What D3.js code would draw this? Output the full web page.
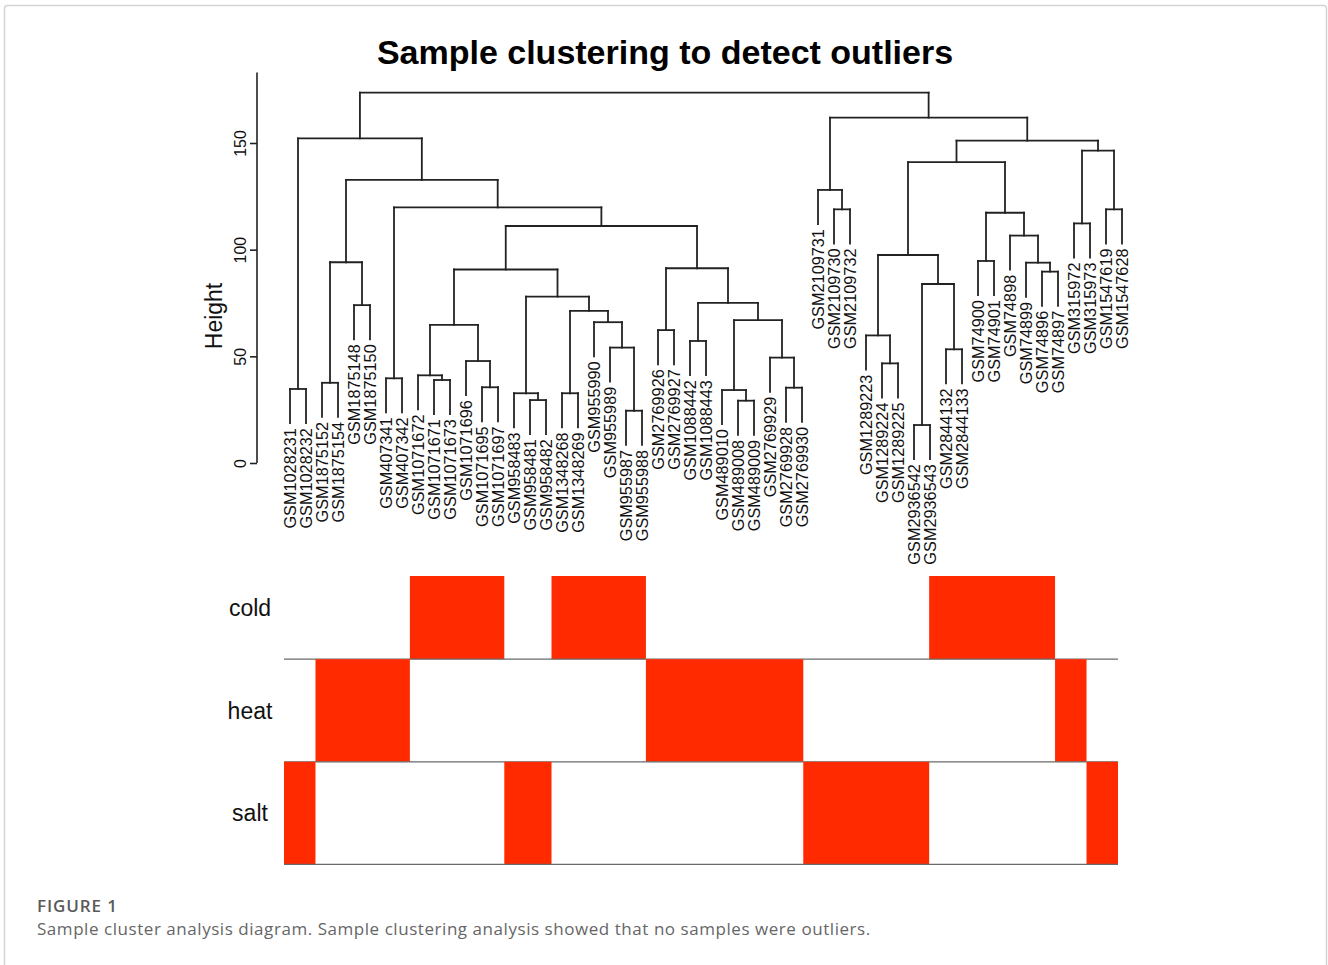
<!DOCTYPE html>
<html>
<head>
<meta charset="utf-8">
<script src="https://cdn.jsdelivr.net/npm/d3@7"></script>
<style>
  html, body { margin: 0; padding: 0; background: #fff; }
  svg { display: block; }
</style>
</head>
<body>
<svg id="chart" width="1328" height="965"></svg>
<script>
// ---------------- DATA ----------------
const samples = [
  "GSM1028231","GSM1028232","GSM1875152","GSM1875154","GSM1875148","GSM1875150",
  "GSM407341","GSM407342","GSM1071672","GSM1071671","GSM1071673","GSM1071696",
  "GSM1071695","GSM1071697","GSM958483","GSM958481","GSM958482","GSM1348268",
  "GSM1348269","GSM955990","GSM955989","GSM955987","GSM955988","GSM2769926",
  "GSM2769927","GSM1088442","GSM1088443","GSM489010","GSM489008","GSM489009",
  "GSM2769929","GSM2769928","GSM2769930","GSM2109731","GSM2109730","GSM2109732",
  "GSM1289223","GSM1289224","GSM1289225","GSM2936542","GSM2936543","GSM2844132",
  "GSM2844133","GSM74900","GSM74901","GSM74898","GSM74899","GSM74896",
  "GSM74897","GSM315972","GSM315973","GSM1547619","GSM1547628"
];

// hclust-style merges: negative = leaf (-(index+1)), positive = earlier merge row (1-based)
const merges = [
  [-1,-2,34.7],[-3,-4,37.6],[-5,-6,74.0],[2,3,94.1],[-7,-8,39.7],
  [-10,-11,38.9],[-9,6,41.1],[-13,-14,35.5],[-12,8,47.8],[7,9,64.7],
  [-16,-17,29.5],[-15,11,32.7],[-18,-19,32.7],[-22,-23,24.5],[-21,14,54.1],
  [-20,15,66.0],[13,16,71.3],[12,17,78.0],[10,18,90.7],[-24,-25,62.3],
  [-26,-27,57.2],[-29,-30,29.2],[-28,22,34.2],[-32,-33,35.3],[-31,24,49.4],
  [23,25,67.0],[21,26,75.1],[20,27,91.3],[19,28,111.1],[5,29,119.8],
  [4,30,132.7],[1,31,152.2],
  [-35,-36,118.9],[-34,33,128.0],[-38,-39,46.7],[-37,35,59.8],[-40,-41,17.8],
  [-42,-43,53.3],[37,38,83.9],[36,39,97.5],[-44,-45,94.7],[-48,-49,89.7],
  [-47,42,93.9],[-46,43,106.6],[41,44,117.3],[40,45,141.0],[-50,-51,112.3],
  [-52,-53,118.9],[47,48,146.4],[46,49,151.1],[34,50,161.9],[32,51,173.6]
];
const leafHang = 16;

const traits = ["cold", "heat", "salt"];
const sampleTrait = [
  "salt","salt",
  "heat","heat","heat","heat","heat","heat",
  "cold","cold","cold","cold","cold","cold",
  "salt","salt","salt",
  "cold","cold","cold","cold","cold","cold",
  "heat","heat","heat","heat","heat","heat","heat","heat","heat","heat",
  "salt","salt","salt","salt","salt","salt","salt","salt",
  "cold","cold","cold","cold","cold","cold","cold","cold",
  "heat","heat",
  "salt","salt"
];

const yTicks = [0, 50, 100, 150];
const titleText = "Sample clustering to detect outliers";
const yLabel = "Height";
const figLabel = "FIGURE 1";
const caption = "Sample cluster analysis diagram. Sample clustering analysis showed that no samples were outliers.";

// ---------------- DRAW ----------------
const svg = d3.select("#chart");
const ink = "#222";
const red = "#ff2a00";

// frame
svg.append("rect")
  .attr("x", 4.5).attr("y", 5.5).attr("width", 1322).attr("height", 990)
  .attr("rx", 3).attr("fill", "#fff").attr("stroke", "#d4d4d4").attr("stroke-width", 1.5);

// title
svg.append("text")
  .attr("x", 665).attr("y", 64)
  .attr("text-anchor", "middle")
  .attr("font-family", "Liberation Sans, Arial, sans-serif")
  .attr("font-weight", "bold").attr("font-size", 34)
  .attr("fill", "#000")
  .text(titleText);

// scales
const x = d3.scalePoint().domain(d3.range(samples.length)).range([290, 1122]);
const y = d3.scaleLinear().domain([0, 150]).range([463, 143]);

// axis
const axisG = svg.append("g").attr("transform", "translate(257,0)");
axisG.call(d3.axisLeft(y).tickValues(yTicks).tickSize(7).tickFormat(d3.format("d")));
axisG.select(".domain").remove();
axisG.append("line").attr("x1", 0).attr("x2", 0).attr("y1", y(183)).attr("y2", y(0))
  .attr("stroke", ink).attr("stroke-width", 1.6);
axisG.selectAll(".tick line").attr("stroke", ink).attr("stroke-width", 1.6);
axisG.selectAll(".tick text")
  .attr("font-family", "Liberation Sans, Arial, sans-serif")
  .attr("font-size", 16).attr("fill", "#111")
  .attr("x", null).attr("dy", null)
  .attr("text-anchor", "middle")
  .attr("transform", "translate(-11,0) rotate(-90)")
  .attr("y", 0);

svg.append("text")
  .attr("transform", "translate(222,316) rotate(-90)")
  .attr("text-anchor", "middle")
  .attr("font-family", "Liberation Sans, Arial, sans-serif")
  .attr("font-size", 23).attr("fill", "#111")
  .text(yLabel);

// build nodes
const nodePos = merges.map(() => null);
function childInfo(ref) {
  if (ref < 0) return { leaf: true, idx: -ref - 1, x: x(-ref - 1) };
  return { leaf: false, x: nodePos[ref - 1].x, h: nodePos[ref - 1].h };
}
const segs = [];
const leafEnds = [];
merges.forEach((m, i) => {
  const [a, b, h] = m;
  const ca = childInfo(a), cb = childInfo(b);
  nodePos[i] = { x: (ca.x + cb.x) / 2, h: h };
  segs.push([ca.x, y(h), cb.x, y(h)]);
  [ca, cb].forEach(c => {
    const bottom = c.leaf ? h - leafHang : c.h;
    segs.push([c.x, y(h), c.x, y(bottom)]);
    if (c.leaf) leafEnds.push({ idx: c.idx, x: c.x, y: y(bottom) });
  });
});

const dendro = svg.append("g");
dendro.selectAll("line").data(segs).join("line")
  .attr("x1", d => d[0]).attr("y1", d => d[1])
  .attr("x2", d => d[2]).attr("y2", d => d[3])
  .attr("stroke", ink).attr("stroke-width", 1.8).attr("stroke-linecap", "square");

dendro.selectAll("text").data(leafEnds).join("text")
  .attr("transform", d => `translate(${d.x},${d.y + 5}) rotate(-90)`)
  .attr("text-anchor", "end")
  .attr("dy", "0.36em")
  .attr("font-family", "Liberation Sans, Arial, sans-serif")
  .attr("font-size", 16.3).attr("fill", "#111")
  .text(d => samples[d.idx]);

// trait colour rows
const xb = d3.scaleBand().domain(d3.range(samples.length)).range([284, 1118]);
const rowY = d3.scaleBand().domain(traits).range([556.6, 864.4]);
const clipTop = 576;

// group contiguous runs of the same trait into single blocks
function runsFor(t) {
  const runs = [];
  sampleTrait.forEach((s, i) => {
    if (s !== t) return;
    const last = runs[runs.length - 1];
    if (last && last.end === i - 1) last.end = i;
    else runs.push({ start: i, end: i });
  });
  return runs;
}

const rows = svg.append("g");
traits.forEach(t => {
  const top = Math.max(rowY(t), clipTop);
  const bottom = rowY(t) + rowY.bandwidth();
  rows.append("g").selectAll("rect")
    .data(runsFor(t))
    .join("rect")
    .attr("x", r => xb(r.start))
    .attr("width", r => xb(r.end) + xb.bandwidth() - xb(r.start))
    .attr("y", top).attr("height", bottom - top)
    .attr("fill", red);
  rows.append("line")
    .attr("x1", 284).attr("x2", 1118)
    .attr("y1", bottom).attr("y2", bottom)
    .attr("stroke", "#6a6a6a").attr("stroke-width", 1.3);
  rows.append("text")
    .attr("x", 250).attr("y", rowY(t) + rowY.bandwidth() / 2)
    .attr("dy", "0.35em")
    .attr("text-anchor", "middle")
    .attr("font-family", "Liberation Sans, Arial, sans-serif")
    .attr("font-size", 23).attr("fill", "#111")
    .text(t);
});

// caption
svg.append("text")
  .attr("x", 37).attr("y", 912)
  .attr("font-family", "Open Sans, Lato, sans-serif")
  .attr("font-weight", 600).attr("font-size", 17).attr("fill", "#5a5a5a")
  .attr("letter-spacing", 0.9)
  .text(figLabel);
svg.append("text")
  .attr("x", 37).attr("y", 935)
  .attr("font-family", "Open Sans, Lato, sans-serif")
  .attr("font-size", 17).attr("fill", "#666")
  .attr("letter-spacing", 0.55)
  .text(caption);
</script>
</body>
</html>
